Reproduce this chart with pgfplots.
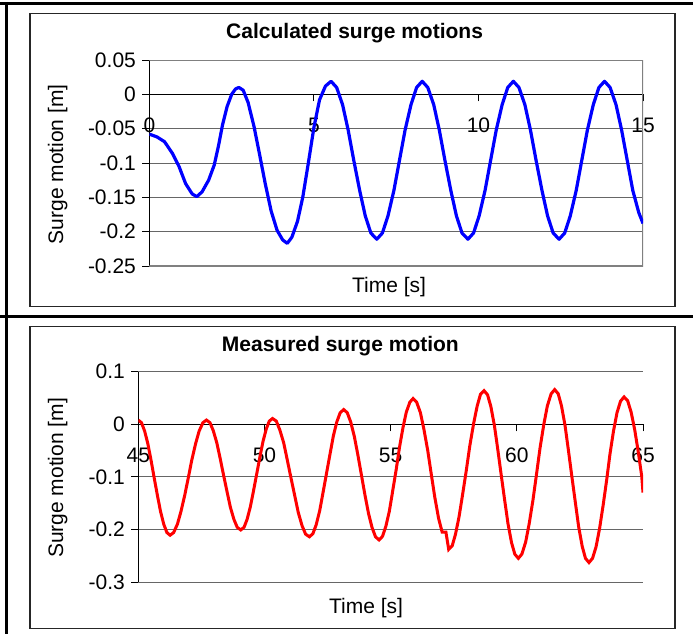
\documentclass[border=0pt]{standalone}
\usepackage{fontspec}
\setmainfont{Liberation Sans}
\usepackage{pgfplots}
\pgfplotsset{compat=1.18}

\newcommand{\chartfont}{\fontsize{21}{25}\selectfont}

\pgfplotsset{
  surge/.style={
    scale only axis,
    axis x line=middle, axis y line=left,
    x axis line style={-, black, line width=1.2pt},
    y axis line style={-, black, line width=1.2pt},
    hide obscured x ticks=false, hide obscured y ticks=false,
    tick style={black, line width=1pt},
    major tick length=7pt,
    tick align=outside,
    ymajorgrids, major grid style={black!60, line width=1pt},
    tick label style={font=\chartfont},
    yticklabel style={xshift=-3pt},
    xticklabel style={anchor=north, yshift=-13pt},
    /pgf/number format/assume math mode=true,
  }
}

\begin{document}
\begin{tikzpicture}
\useasboundingbox (0pt,0pt) rectangle (693pt,-634pt);

% table rules and chart frames
\draw[line width=2.7pt] (0pt,-3.5pt) -- (693pt,-3.5pt);
\draw[line width=2.7pt] (0pt,-316.5pt) -- (693pt,-316.5pt);
\draw[line width=3pt] (6.5pt,-2pt) -- (6.5pt,-634pt);
\draw[black!85, line width=1.2pt] (30pt,-13.3pt) rectangle (675pt,-306.7pt);
\draw[black!85, line width=1.2pt] (30pt,-326.7pt) rectangle (675pt,-628.3pt);

% calculated
\begin{axis}[surge,
  at={(149.4pt,-266pt)}, anchor=south west,
  width=493.6pt, height=206pt,
  xmin=0, xmax=15, ymin=-0.25, ymax=0.05,
  xtick={0,5,10,15}, xticklabels={0,5,10,15},
  ytick={-0.25,-0.2,-0.15,-0.1,-0.05,0,0.05},
  yticklabels={-0.25,-0.2,-0.15,-0.1,-0.05,0,0.05},
]
\draw[black!50, line width=1.5pt] (rel axis cs:0,1) -- (rel axis cs:1,1) -- (rel axis cs:1,0) -- (rel axis cs:0,0);
\addplot[blue, line width=3.2pt, line join=round] coordinates {
(0.00,-0.058) (0.23,-0.062) (0.46,-0.069) (0.70,-0.086) (0.90,-0.105)
(1.10,-0.130) (1.30,-0.145) (1.44,-0.149) (1.60,-0.142) (1.80,-0.125)
(1.97,-0.103) (2.10,-0.075) (2.22,-0.045) (2.36,-0.018) (2.50,0.000)
(2.62,0.008) (2.72,0.010) (2.85,0.006) (3.00,-0.012) (3.18,-0.047)
(3.35,-0.088) (3.52,-0.130) (3.70,-0.170) (3.88,-0.198) (4.05,-0.212)
(4.19,-0.217) (4.33,-0.208) (4.50,-0.185) (4.66,-0.150) (4.83,-0.100)
(5.00,-0.048) (5.17,-0.008) (5.35,0.012) (5.52,0.019) (5.69,0.010)
(5.87,-0.015) (6.04,-0.052) (6.21,-0.096) (6.39,-0.140) (6.56,-0.177)
(6.73,-0.202) (6.91,-0.211) (7.08,-0.202) (7.25,-0.177) (7.43,-0.140)
(7.60,-0.096) (7.77,-0.052) (7.95,-0.015) (8.12,0.010) (8.29,0.019)
(8.46,0.010) (8.64,-0.015) (8.81,-0.052) (8.98,-0.096) (9.16,-0.140)
(9.33,-0.177) (9.50,-0.202) (9.68,-0.211) (9.85,-0.202) (10.02,-0.177)
(10.20,-0.140) (10.37,-0.096) (10.54,-0.052) (10.72,-0.015) (10.89,0.010)
(11.06,0.019) (11.23,0.010) (11.41,-0.015) (11.58,-0.052) (11.75,-0.096)
(11.93,-0.140) (12.10,-0.177) (12.27,-0.202) (12.45,-0.211) (12.62,-0.202)
(12.79,-0.177) (12.97,-0.140) (13.14,-0.096) (13.31,-0.052) (13.49,-0.015)
(13.66,0.010) (13.83,0.019) (14.00,0.010) (14.18,-0.015) (14.35,-0.052)
(14.52,-0.096) (14.69,-0.140) (14.87,-0.172) (15.00,-0.188)
};
\end{axis}

% measured
\begin{axis}[surge,
  at={(138.3pt,-582pt)}, anchor=south west,
  width=504.7pt, height=210.3pt,
  xmin=45, xmax=65, ymin=-0.3, ymax=0.1,
  xtick={45,50,55,60,65}, xticklabels={45,50,55,60,65},
  ytick={-0.3,-0.2,-0.1,0,0.1},
  yticklabels={-0.3,-0.2,-0.1,0,0.1},
]
\addplot[red, line width=3pt, line join=miter] coordinates {
(45.000,0.008) (45.126,0.003) (45.252,-0.013) (45.378,-0.037) (45.504,-0.068)
(45.630,-0.102) (45.756,-0.135) (45.882,-0.166) (46.008,-0.190) (46.134,-0.206)
(46.26,-0.211) (46.40,-0.206) (46.55,-0.190) (46.69,-0.166) (46.84,-0.135)
(46.98,-0.102) (47.12,-0.068) (47.27,-0.037) (47.41,-0.013) (47.56,0.003)
(47.70,0.008) (47.84,0.003) (47.97,-0.012) (48.11,-0.035) (48.24,-0.064)
(48.38,-0.097) (48.52,-0.129) (48.65,-0.158) (48.79,-0.181) (48.92,-0.196)
(49.06,-0.201) (49.19,-0.196) (49.31,-0.181) (49.44,-0.157) (49.56,-0.128)
(49.69,-0.095) (49.82,-0.062) (49.94,-0.033) (50.07,-0.009) (50.19,0.006)
(50.32,0.011) (50.47,0.006) (50.61,-0.011) (50.76,-0.035) (50.90,-0.067)
(51.05,-0.102) (51.20,-0.136) (51.34,-0.168) (51.49,-0.193) (51.63,-0.209)
(51.78,-0.214) (51.92,-0.208) (52.05,-0.191) (52.19,-0.164) (52.32,-0.130)
(52.46,-0.093) (52.60,-0.056) (52.73,-0.022) (52.87,0.005) (53.00,0.022)
(53.14,0.028) (53.28,0.022) (53.42,0.004) (53.56,-0.023) (53.70,-0.058)
(53.84,-0.096) (53.98,-0.134) (54.12,-0.169) (54.26,-0.196) (54.40,-0.214)
(54.54,-0.220) (54.68,-0.213) (54.81,-0.194) (54.95,-0.165) (55.08,-0.127)
(55.22,-0.086) (55.35,-0.044) (55.49,-0.006) (55.62,0.023) (55.76,0.042)
(55.89,0.049) (56.03,0.042) (56.18,0.022) (56.32,-0.010) (56.47,-0.050)
(56.61,-0.095) (56.75,-0.139) (56.90,-0.179) (57.04,-0.205) (57.19,-0.205)
(57.30,-0.238) (57.44,-0.231) (57.57,-0.209) (57.71,-0.176) (57.85,-0.134)
(58.00,-0.087) (58.14,-0.040) (58.29,0.002) (58.43,0.035) (58.56,0.057)
(58.70,0.064) (58.84,0.056) (58.97,0.034) (59.11,-0.002) (59.24,-0.046)
(59.38,-0.096) (59.52,-0.145) (59.65,-0.189) (59.79,-0.225) (59.92,-0.247)
(60.06,-0.255) (60.20,-0.247) (60.35,-0.224) (60.49,-0.189) (60.64,-0.144)
(60.78,-0.095) (60.92,-0.045) (61.07,0.000) (61.21,0.035) (61.36,0.058)
(61.50,0.066) (61.64,0.058) (61.77,0.035) (61.91,-0.002) (62.04,-0.048)
(62.18,-0.099) (62.32,-0.149) (62.45,-0.195) (62.59,-0.232) (62.72,-0.255)
(62.86,-0.263) (63.00,-0.255) (63.14,-0.233) (63.28,-0.198) (63.42,-0.154)
(63.56,-0.106) (63.69,-0.057) (63.83,-0.013) (63.97,0.022) (64.11,0.044)
(64.25,0.052) (64.39,0.045) (64.53,0.023) (64.67,-0.010) (64.81,-0.052)
(64.95,-0.099) (65.00,-0.130)
};
\end{axis}

% titles and axis labels
\node[font=\chartfont\bfseries, anchor=base] at (354.6pt,-39pt) {Calculated surge motions};
\node[font=\chartfont, anchor=base] at (389pt,-292.3pt) {Time [s]};
\node[font=\chartfont, anchor=base, rotate=90] at (63pt,-164.3pt) {Surge motion [m]};
\node[font=\chartfont\bfseries, anchor=base] at (340.4pt,-351.7pt) {Measured surge motion};
\node[font=\chartfont, anchor=base] at (366pt,-613pt) {Time [s]};
\node[font=\chartfont, anchor=base, rotate=90] at (63pt,-478pt) {Surge motion [m]};
\end{tikzpicture}
\end{document}
